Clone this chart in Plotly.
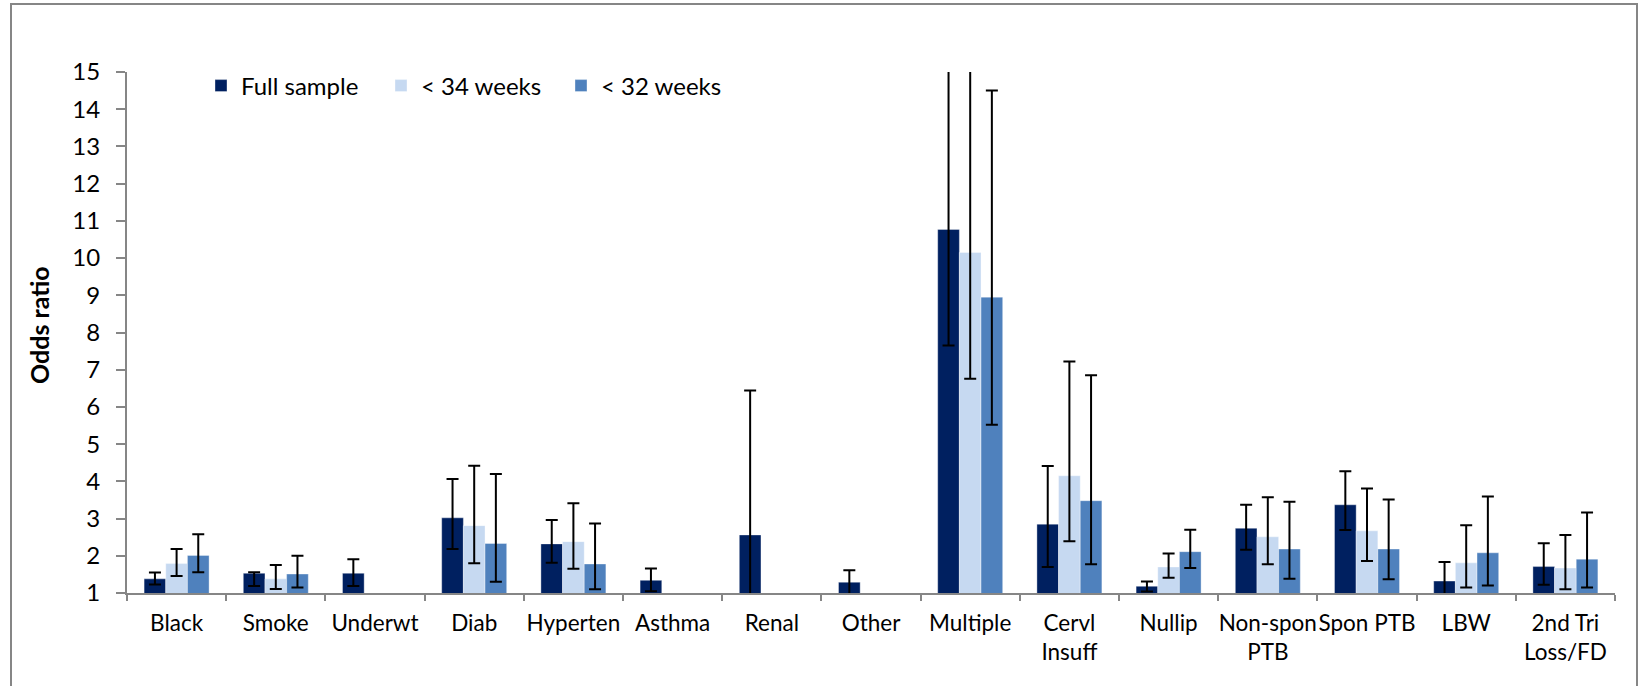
import plotly.graph_objects as go

# Risk factors on the x axis
categories = ["Black", "Smoke", "Underwt", "Diab", "Hyperten", "Asthma", "Renal",
              "Other", "Multiple", "Cervl<br>Insuff", "Nullip", "Non-spon<br>PTB",
              "Spon PTB", "LBW", "2nd Tri<br>Loss/FD"]

# Odds ratios with lower / upper 95% confidence limits (None = not estimated)
full_or = [1.38, 1.53, 1.53, 3.02, 2.32, 1.34, 2.56, 1.29, 10.77, 2.85, 1.18, 2.74, 3.37, 1.32, 1.71]
full_lo = [1.23, 1.19, 1.19, 2.18, 1.81, 1.05, 0.90, 0.95, 7.65, 1.70, 1.04, 2.16, 2.69, 0.95, 1.22]
full_hi = [1.55, 1.56, 1.91, 4.06, 2.96, 1.66, 6.44, 1.61, 15.6, 4.41, 1.31, 3.37, 4.27, 1.83, 2.34]

w34_or = [1.79, 1.38, None, 2.81, 2.38, None, None, None, 10.15, 4.15, 1.70, 2.51, 2.67, 1.81, 1.67]
w34_lo = [1.46, 1.11, None, 1.80, 1.65, None, None, None, 6.76, 2.39, 1.41, 1.77, 1.86, 1.15, 1.10]
w34_hi = [2.18, 1.75, None, 4.42, 3.41, None, None, None, 15.8, 7.22, 2.06, 3.57, 3.81, 2.82, 2.56]

w32_or = [2.01, 1.51, None, 2.33, 1.78, None, None, None, 8.95, 3.48, 2.11, 2.18, 2.18, 2.08, 1.91]
w32_lo = [1.56, 1.15, None, 1.30, 1.10, None, None, None, 5.52, 1.77, 1.67, 1.38, 1.37, 1.20, 1.15]
w32_hi = [2.58, 2.00, None, 4.20, 2.87, None, None, None, 14.50, 6.85, 2.70, 3.45, 3.51, 3.59, 3.16]

series_names = ["Full sample", "< 34 weeks", "< 32 weeks"]
colors = ["#002060", "#C6D9F1", "#4F81BD"]

FONT = "Lato, 'Open Sans', sans-serif"
AXIS_GREY = "#868686"
LEGEND_SIZE = 24
TICK_SIZE = 22.5


def err_parts(vals, lo, hi):
    plus, minus = [], []
    for v, l, h in zip(vals, lo, hi):
        if v is None:
            plus.append(None)
            minus.append(None)
        else:
            plus.append(h - v)
            minus.append(v - l)
    return plus, minus


fig = go.Figure()
for name, color, vals, lo, hi in zip(series_names, colors,
                                     [full_or, w34_or, w32_or],
                                     [full_lo, w34_lo, w32_lo],
                                     [full_hi, w34_hi, w32_hi]):
    plus, minus = err_parts(vals, lo, hi)
    fig.add_trace(go.Bar(
        name=name, x=categories, y=vals,
        marker=dict(color=color, line=dict(color="rgba(255,255,255,0.6)", width=0.6)),
        error_y=dict(type="data", symmetric=False, array=plus, arrayminus=minus,
                     color="black", thickness=2, width=6),
        cliponaxis=True,
    ))

L, R, T, B = 127, 33, 72, 93
W, H = 1648, 686
plot_w = W - L - R
plot_h = H - T - B


def px_x(px):
    return (px - L) / plot_w


def px_y(py):
    return (H - B - py) / plot_h


fig.update_layout(
    width=W, height=H,
    margin=dict(l=L, r=R, t=T, b=B),
    paper_bgcolor="white", plot_bgcolor="white",
    font=dict(family=FONT, size=TICK_SIZE, color="black"),
    barmode="group", bargap=0.345, bargroupgap=0,
    showlegend=True,
    legend=dict(orientation="h", x=px_x(201), xanchor="left",
                y=px_y(86), yanchor="middle",
                font=dict(family=FONT, size=LEGEND_SIZE, color="black"),
                itemwidth=30, entrywidth=135, traceorder="normal",
                bgcolor="rgba(0,0,0,0)"),
    xaxis=dict(
        type="category", showgrid=False, zeroline=False,
        showline=True, linecolor=AXIS_GREY, linewidth=2,
        ticks="outside", tickson="boundaries", ticklen=6, tickcolor=AXIS_GREY, tickwidth=2,
        tickfont=dict(family=FONT, size=TICK_SIZE, color="black"),
        ticklabelstandoff=9,
        tickangle=0,
    ),
    yaxis=dict(
        range=[1, 15], dtick=1, tick0=1, showgrid=False, zeroline=False,
        showline=True, linecolor=AXIS_GREY, linewidth=2,
        ticks="outside", ticklen=9, tickcolor=AXIS_GREY, tickwidth=2,
        tickfont=dict(family=FONT, size=LEGEND_SIZE, color="black"),
        ticklabelstandoff=11,
    ),
    annotations=[dict(text="<b>Odds ratio</b>", textangle=-90, showarrow=False,
                      xref="paper", yref="paper", x=px_x(39), y=px_y(325),
                      xanchor="center", yanchor="middle",
                      font=dict(family=FONT, size=25, color="black"))],
    shapes=[dict(type="rect", xref="paper", yref="paper",
                 x0=px_x(11), x1=px_x(1637), y0=px_y(720), y1=px_y(4),
                 line=dict(color=AXIS_GREY, width=2), fillcolor="rgba(0,0,0,0)",
                 layer="below")],
)

fig.write_html("out.html")
